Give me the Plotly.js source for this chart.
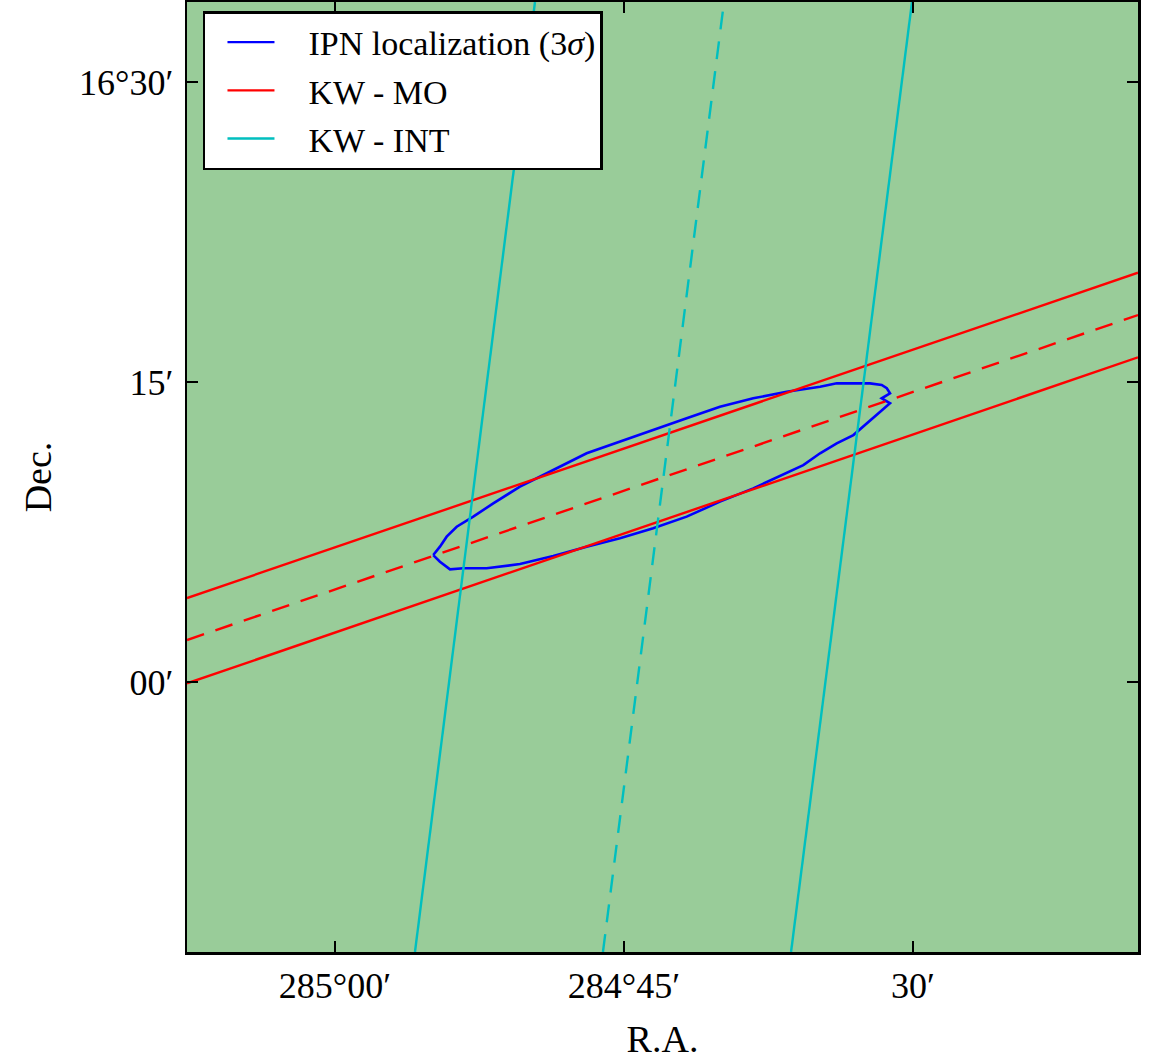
<!DOCTYPE html>
<html>
<head>
<meta charset="utf-8">
<script src="https://cdn.plot.ly/plotly-3.0.1.min.js"></script>
<style>html,body{margin:0;padding:0;background:#fff;}</style>
</head>
<body>
<div id="chart" style="width:1153px;height:1061px;"></div>
<script>
// IPN 3-sigma localization contour (R.A., Dec. in degrees)
const ipnRA = [284.9150, 284.9092, 284.9005, 284.8890, 284.8688, 284.8400, 284.8112, 284.7823,
  284.7535, 284.7247, 284.6958, 284.6670, 284.6382, 284.6093, 284.5949, 284.5804, 284.5660,
  284.5516, 284.5199, 284.5271, 284.5199, 284.5227, 284.5271, 284.5372, 284.5516, 284.5660,
  284.5804, 284.6093, 284.6382, 284.6670, 284.6958, 284.7247, 284.7535, 284.7823, 284.8112,
  284.8400, 284.8631, 284.8804, 284.8947, 284.9034, 284.9092, 284.9150];
const ipnDec = [16.1058, 16.1003, 16.0939, 16.0948, 16.0948, 16.0983, 16.1050, 16.1128,
  16.1198, 16.1281, 16.1378, 16.1503, 16.1614, 16.1739, 16.1808, 16.1906, 16.1989,
  16.2058, 16.2323, 16.2364, 16.2406, 16.2448, 16.2475, 16.2489, 16.2489, 16.2489,
  16.2461, 16.2419, 16.2364, 16.2294, 16.2198, 16.2100, 16.2003, 16.1906, 16.1767,
  16.1628, 16.1489, 16.1378, 16.1294, 16.1211, 16.1128, 16.1058];

// KW - MO annulus (upper edge, centre, lower edge)
const moRA = [285.128, 284.3054];
const moUpperDec = [16.0700, 16.3411];
const moCenterDec = [16.0350, 16.3058];
const moLowerDec = [15.9989, 16.2706];

// KW - INT annulus (left edge, centre, right edge)
const intDec = [15.775, 16.5667];
const intLeftRA = [284.9308, 284.8270];
const intCenterRA = [284.7682, 284.6635];
const intRightRA = [284.6055, 284.5009];

// Axes
const raRange = [285.128, 284.3054];
const decRange = [15.775, 16.5667];
const raTickVals = [285.0, 284.75, 284.5];
const raTickText = ['285°00′', '284°45′', '30′'];
const decTickVals = [16.0, 16.25, 16.5];
const decTickText = ['00′', '15′', '16°30′'];

// Legend labels
const legendNames = ['IPN localization (3<i>σ</i>)', 'KW - MO', 'KW - INT'];

const FONT = '"Liberation Serif", "DejaVu Serif", serif';
const BLUE = '#0000ff', RED = '#ff0000', CYAN = '#00bfbf';
const LW = 2.4;
const DASH = '18px,12px';
const LEGDASH = '0px,17px,47px,400px';

const traces = [
  {x: ipnRA, y: ipnDec, mode: 'lines', name: legendNames[0], line: {color: BLUE, width: 2.6}, showlegend: false},
  {x: moRA, y: moUpperDec, mode: 'lines', name: legendNames[1], line: {color: RED, width: LW}, showlegend: false},
  {x: moRA, y: moCenterDec, mode: 'lines', name: legendNames[1], line: {color: RED, width: LW, dash: DASH}, showlegend: false},
  {x: moRA, y: moLowerDec, mode: 'lines', name: legendNames[1], line: {color: RED, width: LW}, showlegend: false},
  {x: intLeftRA, y: intDec, mode: 'lines', name: legendNames[2], line: {color: CYAN, width: LW}, showlegend: false},
  {x: intCenterRA, y: intDec, mode: 'lines', name: legendNames[2], line: {color: CYAN, width: LW, dash: DASH}, showlegend: false},
  {x: intRightRA, y: intDec, mode: 'lines', name: legendNames[2], line: {color: CYAN, width: LW}, showlegend: false},
  // legend entries
  {x: [null], y: [null], mode: 'lines', name: legendNames[0], line: {color: BLUE, width: LW, dash: LEGDASH}, legendgroup: 'a'},
  {x: [null], y: [null], mode: 'lines', name: legendNames[1], line: {color: RED, width: LW, dash: LEGDASH}, legendgroup: 'b'},
  {x: [null], y: [null], mode: 'lines', name: legendNames[2], line: {color: CYAN, width: LW, dash: LEGDASH}, legendgroup: 'c'}
];

const axisCommon = {
  showgrid: false, zeroline: false, showline: true, linecolor: '#000', linewidth: 2.5,
  mirror: 'ticks', ticks: 'inside', ticklen: 11, tickwidth: 1.5, tickcolor: '#000',
  tickfont: {family: FONT, size: 36, color: '#000'}
};

const layout = {
  width: 1153, height: 1061,
  margin: {l: 187, r: 15, t: 2, b: 109},
  paper_bgcolor: '#ffffff', plot_bgcolor: '#99cc99',
  font: {family: FONT, color: '#000'},
  showlegend: true,
  xaxis: Object.assign({}, axisCommon, {
    range: raRange, tickmode: 'array', tickvals: raTickVals, ticktext: raTickText,
    ticklabelstandoff: 0,
    title: {text: 'R.A.', font: {family: FONT, size: 38, color: '#000'}, standoff: 21}
  }),
  yaxis: Object.assign({}, axisCommon, {
    range: decRange, tickmode: 'array', tickvals: decTickVals, ticktext: decTickText,
    ticklabelstandoff: 4,
    title: {text: 'Dec.', font: {family: FONT, size: 38, color: '#000'}, standoff: 16}
  }),
  legend: {
    x: 0.0168, y: 0.9905, xanchor: 'left', yanchor: 'top',
    bgcolor: '#ffffff', bordercolor: '#000', borderwidth: 2.5,
    font: {family: FONT, size: 34, color: '#000'},
    traceorder: 'grouped', tracegroupgap: 1, itemwidth: 93
  }
};

Plotly.newPlot('chart', traces, layout, {displayModeBar: false, staticPlot: true});
</script>
</body>
</html>
